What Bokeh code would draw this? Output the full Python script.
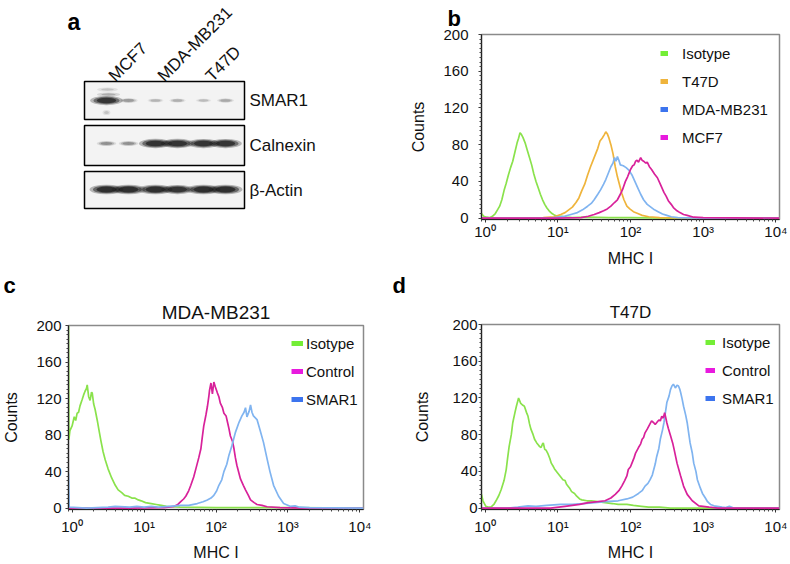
import numpy as np
from bokeh.plotting import figure
from bokeh.models import (Range1d, Legend, LegendItem, FixedTicker, Title,
                          SingleIntervalTicker, CustomJSTickFormatter)
from bokeh.layouts import row, column
from bokeh.core.properties import value
from bokeh.embed import file_html
from bokeh.resources import INLINE

FONT = "Liberation Sans"

# ---------------- Panel a : western blot (band intensities 0..1) ----------------
lanes = ["MCF7", "MDA-MB231", "T47D"]
proteins = ["SMAR1", "Calnexin", "β-Actin"]
# two duplicate sub-lanes per cell line
smar1_bands = [0.9, 0.3, 0.2, 0.22, 0.18, 0.25]
calnexin_bands = [0.35, 0.35, 0.92, 0.92, 0.9, 0.9]
actin_bands = [0.95, 0.95, 0.95, 0.9, 0.95, 0.95]
mcf7_smar1_smear = [0.3, 0.45, 0.3]

# ---------------- Panel b : flow cytometry, cell lines ----------------
b_names = ["Isotype", "T47D", "MDA-MB231", "MCF7"]
b_iso_log = [-0.05, -0.02, 0.02, 0.06, 0.10, 0.14, 0.17, 0.20, 0.23, 0.26, 0.29, 0.32, 0.35, 0.38, 0.41,
             0.44, 0.46, 0.48, 0.50, 0.52, 0.55, 0.58, 0.61, 0.64, 0.67, 0.70, 0.73, 0.76, 0.79, 0.82,
             0.85, 0.88, 0.92, 0.96, 1.00, 1.05, 1.12, 1.2, 1.4, 1.7, 2.0, 2.5, 3.0, 4.05]
b_iso_cnt = [5, 2, 1, 0.5, 2, 5, 9, 13, 20, 30, 38, 47, 55, 62, 72, 82, 87, 93, 91, 88,
             82, 74, 66, 58, 48, 40, 33, 26, 20, 15, 11, 8, 5, 3, 2, 2, 1, 0.5, 1, 0.5, 0.5, 0, 0, 0]
b_t47d_log = [-0.05, 0.5, 0.8, 0.95, 1.04, 1.10, 1.15, 1.20, 1.25, 1.29, 1.33, 1.37, 1.41, 1.45, 1.49,
              1.52, 1.55, 1.58, 1.61, 1.64, 1.66, 1.68, 1.70, 1.73, 1.76, 1.79, 1.82, 1.85, 1.88, 1.91,
              1.95, 1.99, 2.04, 2.10, 2.16, 2.25, 2.4, 3.0, 4.05]
b_t47d_cnt = [0, 0, 0.5, 1.5, 4, 6, 9, 12, 17, 22, 30, 37, 47, 56, 64, 70, 76, 84, 87, 91,
              94, 92, 88, 80, 70, 56, 45, 36, 27, 20, 13, 10, 7, 5, 3, 1.5, 0.5, 0, 0]
b_mda_log = [-0.05, 0.9, 1.09, 1.18, 1.27, 1.34, 1.41, 1.46, 1.50, 1.55, 1.59, 1.63, 1.66, 1.70, 1.73,
             1.76, 1.78, 1.80, 1.82, 1.84, 1.86, 1.90, 1.94, 1.98, 2.02, 2.06, 2.10, 2.14, 2.18, 2.23,
             2.28, 2.33, 2.38, 2.44, 2.50, 2.56, 2.65, 3.0, 4.05]
b_mda_cnt = [0, 0, 2, 4, 6, 9, 13, 16, 20, 26, 31, 37, 42, 50, 56, 60, 66, 62, 67, 63,
             58, 57, 55, 52, 47, 40, 33, 26, 20, 15, 12, 9, 7, 4.5, 3, 1.5, 0.5, 0, 0]
b_mcf7_log = [-0.05, 1.0, 1.32, 1.42, 1.50, 1.57, 1.63, 1.68, 1.73, 1.78, 1.82, 1.86, 1.89, 1.93, 1.96,
              1.98, 2.00, 2.03, 2.05, 2.07, 2.09, 2.11, 2.14, 2.16, 2.18, 2.21, 2.23, 2.26, 2.29, 2.33,
              2.37, 2.41, 2.46, 2.49, 2.52, 2.56, 2.59, 2.64, 2.68, 2.73, 2.78, 2.87, 3.0, 4.05]
b_mcf7_cnt = [0, 0, 0.5, 2, 4, 6, 8, 10, 13, 17, 20, 26, 31, 40, 45, 49, 53, 57, 58, 62,
              63, 61, 66, 63, 62, 60, 61, 56, 53, 48, 44, 37, 28, 24, 19, 15, 11.5, 8, 6, 4,
              3, 1, 0.5, 0]

# ---------------- Panel c : MDA-MB231 ----------------
cd_names = ["Isotype", "Control", "SMAR1"]
c_iso_log = [-0.05, -0.045, -0.03, 0.0, 0.03, 0.05, 0.07, 0.09, 0.11, 0.14, 0.16, 0.18, 0.20, 0.21, 0.23,
             0.25, 0.27, 0.28, 0.30, 0.32, 0.35, 0.37, 0.40, 0.43, 0.46, 0.50, 0.55, 0.60, 0.64, 0.69,
             0.73, 0.78, 0.83, 0.87, 0.92, 0.96, 1.02, 1.10, 1.17, 1.24, 1.31, 1.38, 1.5, 2.0, 3.0, 4.05]
c_iso_cnt = [200, 75, 85, 90, 100, 96, 104, 105, 112, 119, 124, 128, 131, 135, 122, 118, 127, 126, 114, 108,
             96, 87, 74, 62, 53, 43, 33, 25, 20, 17, 14, 13, 11, 11, 9, 8, 6, 5, 4, 3,
             2, 1.5, 1, 0.5, 0.5, 0]
c_ctrl_log = [-0.05, 0.8, 1.28, 1.42, 1.47, 1.51, 1.55, 1.58, 1.62, 1.65, 1.69, 1.72, 1.76, 1.79, 1.81,
              1.83, 1.86, 1.88, 1.90, 1.91, 1.93, 1.95, 1.97, 1.99, 2.02, 2.04, 2.06, 2.09, 2.11, 2.14,
              2.16, 2.18, 2.20, 2.23, 2.25, 2.27, 2.29, 2.32, 2.34, 2.38, 2.41, 2.45, 2.48, 2.53, 2.57,
              2.64, 2.71, 2.89, 3.2, 4.05]
c_ctrl_cnt = [0, 0, 0.5, 2, 4, 7, 10, 13, 19, 25, 34, 43, 55, 65, 78, 90, 102, 111, 122, 129,
              137, 125, 138, 133, 126, 122, 115, 110, 104, 101, 94, 87, 79, 73, 65, 55, 47, 38, 32, 25,
              20, 14, 9, 6, 4, 3, 1.5, 0.5, 0, 0]
c_smar_log = [-0.05, -0.04, 0.2, 0.5, 0.6, 0.8, 0.9, 1.0, 1.1, 1.2, 1.35, 1.51, 1.62, 1.74, 1.82,
              1.88, 1.93, 1.97, 2.01, 2.04, 2.08, 2.11, 2.15, 2.18, 2.22, 2.27, 2.32, 2.36, 2.39, 2.41,
              2.43, 2.46, 2.48, 2.50, 2.52, 2.57, 2.61, 2.66, 2.71, 2.75, 2.80, 2.87, 2.94, 3.03, 3.10,
              3.16, 3.3, 4.05]
c_smar_cnt = [38, 1, 0, 1, 2, 1, 2, 1, 2, 1, 2, 3, 3, 5, 7, 9, 11, 14, 19, 25,
              31, 40, 48, 58, 68, 83, 94, 101, 105, 110, 100, 106, 113, 105, 101, 97, 86, 72, 54, 40,
              25, 13, 5, 2, 2.5, 1, 0.5, 0]

# ---------------- Panel d : T47D ----------------
d_iso_log = [-0.05, -0.03, 0.01, 0.05, 0.08, 0.12, 0.15, 0.19, 0.22, 0.26, 0.29, 0.31, 0.33, 0.36, 0.38,
             0.41, 0.43, 0.45, 0.46, 0.48, 0.49, 0.52, 0.54, 0.57, 0.59, 0.61, 0.63, 0.66, 0.68, 0.71,
             0.73, 0.75, 0.77, 0.79, 0.80, 0.82, 0.84, 0.86, 0.89, 0.91, 0.94, 0.96, 1.00, 1.03, 1.07,
             1.10, 1.12, 1.16, 1.19, 1.23, 1.26, 1.30, 1.33, 1.40, 1.46, 1.55, 1.65, 1.75, 1.83, 1.95,
             2.04, 2.15, 2.25, 2.4, 2.55, 3.0, 4.05]
d_iso_cnt = [15, 8, 2, 1, 1, 4, 8, 14, 20, 30, 42, 55, 67, 80, 93, 104, 111, 117, 120, 116,
             114, 112, 111, 104, 100, 92, 86, 80, 75, 71, 69, 67, 66, 70, 71, 64, 63, 60, 54, 49,
             45, 42, 38, 35, 31, 30, 26, 22, 18, 16, 13, 10, 9, 8, 8, 7, 6, 5, 4, 4,
             3, 2, 1, 1, 0, 0, 0]
d_ctrl_log = [-0.05, 0.9, 1.1, 1.3, 1.42, 1.55, 1.65, 1.73, 1.79, 1.84, 1.88, 1.92, 1.95, 1.97, 2.00,
              2.02, 2.05, 2.07, 2.09, 2.11, 2.14, 2.16, 2.18, 2.20, 2.23, 2.25, 2.27, 2.29, 2.32, 2.34,
              2.37, 2.39, 2.41, 2.43, 2.45, 2.47, 2.50, 2.52, 2.55, 2.58, 2.60, 2.64, 2.69, 2.73, 2.78,
              2.85, 2.94, 3.08, 3.2, 4.05]
d_ctrl_cnt = [0, 0, 2, 4, 6, 7, 8, 11, 15, 19, 24, 30, 35, 42, 45, 49, 55, 60, 63, 66,
              70, 75, 77, 82, 86, 89, 92, 95, 93, 91, 94, 96, 95, 100, 98, 104, 93, 87, 79, 71,
              64, 49, 35, 24, 15, 8, 2.5, 1, 0, 0]
d_smar_log = [-0.05, 0.3, 0.45, 0.59, 0.7, 0.85, 1.04, 1.2, 1.35, 1.51, 1.65, 1.83, 1.95, 2.03, 2.11,
              2.16, 2.20, 2.24, 2.27, 2.30, 2.32, 2.34, 2.36, 2.39, 2.41, 2.44, 2.46, 2.48, 2.50, 2.53,
              2.55, 2.57, 2.59, 2.61, 2.62, 2.64, 2.66, 2.68, 2.69, 2.71, 2.73, 2.76, 2.78, 2.80, 2.82,
              2.85, 2.87, 2.90, 2.92, 2.96, 2.99, 3.03, 3.06, 3.10, 3.15, 3.26, 3.31, 3.36, 3.42, 4.05]
d_smar_cnt = [0, 0, 1, 2.5, 2, 3, 4, 4, 5, 6, 7, 8, 10, 12, 16, 19, 24, 27, 31, 36,
              42, 48, 56, 65, 75, 85, 93, 104, 115, 122, 129, 133, 135, 132, 131, 134, 133, 129, 126, 119,
              111, 101, 93, 82, 71, 60, 49, 40, 31, 22, 16, 11, 7, 4, 2.5, 1, 0.5, 2, 0, 0]

# colours
GREEN_C, GREEN_L = "#8ae24c", "#74ee36"
ORANGE = "#efb43c"
BLUE_C, BLUE_L = "#80b4f0", "#3c74ee"
MAG_C, MAG_L = "#d8219a", "#e81ade"

SUP = """
const sup = {"0":"\u2070","1":"\u00b9","2":"\u00b2","3":"\u00b3","4":"\u2074","-":"\u207b"};
const e = Math.round(Math.log10(tick));
return "10" + String(e).split("").map(c => sup[c]).join("");
"""

XLO, XHI = -0.05, 4.05
YLO, YHI = -1.5, 200
ROW1_H, ROW2_H = 270, 294
COL1_W, COL2_W = 392, 398


def add_title(p, text, size, bold, align, offset, standoff):
    p.add_layout(Title(text=text, align=align, offset=offset, standoff=standoff,
                       text_font=FONT, text_font_size=size,
                       text_font_style="bold" if bold else "normal",
                       text_color="black" if bold else "#111111"), "above")


def hist(width, height, borders, series, names, leg_colors, leg_loc, glyph_w, leg_stand,
         titles, xls, yls, xas, yas):
    p = figure(width=width, height=height, x_axis_type="log",
               x_range=Range1d(10 ** XLO, 10 ** XHI), y_range=Range1d(YLO, YHI),
               output_backend="svg", toolbar_location=None, title=None, frame_align=False,
               min_border_left=borders[0], min_border_right=borders[1],
               min_border_top=borders[2], min_border_bottom=borders[3])
    p.background_fill_color = "white"
    p.border_fill_color = "white"
    p.outline_line_color = "#8a8a8a"
    p.outline_line_width = 1.5
    p.xgrid.visible = False
    p.ygrid.visible = False
    for t in titles:
        add_title(p, *t)
    minor = [m * 10.0 ** e for e in range(-1, 4) for m in range(2, 10)]
    p.xaxis.ticker = FixedTicker(ticks=[1, 10, 100, 1000, 10000], minor_ticks=minor)
    p.xaxis.formatter = CustomJSTickFormatter(code=SUP)
    p.yaxis.ticker = SingleIntervalTicker(interval=40, num_minor_ticks=8)
    for ax in (p.xaxis[0], p.yaxis[0]):
        ax.axis_line_color = "#222222"
        ax.axis_line_width = 1.2
        ax.major_tick_in = 0
        ax.major_tick_out = 3
        ax.minor_tick_in = 0
        ax.minor_tick_out = 2
        ax.major_tick_line_color = "#333333"
        ax.minor_tick_line_color = "#444444"
        ax.major_label_text_font = FONT
        ax.major_label_text_font_size = "15px"
        ax.major_label_text_color = "#111111"
        ax.axis_label_text_font = FONT
        ax.axis_label_text_font_size = "16px"
        ax.axis_label_text_font_style = "normal"
        ax.axis_label_text_color = "#111111"
    p.xaxis.axis_label = "MHC I"
    p.yaxis.axis_label = "Counts"
    p.xaxis.major_label_standoff = xls
    p.yaxis.major_label_standoff = yls
    p.xaxis.axis_label_standoff = xas
    p.yaxis.axis_label_standoff = yas

    for lg, cnt, col in series:
        p.line(x=10 ** np.array(lg), y=cnt, line_color=col, line_width=1.7)

    items = []
    for nm, col in zip(names, leg_colors):
        r = p.line(x=[np.nan], y=[np.nan], line_color=col, line_width=5)
        items.append(LegendItem(label=nm, renderers=[r]))
    leg = Legend(items=items, location=leg_loc, glyph_width=glyph_w, glyph_height=20,
                 label_height=20, label_standoff=leg_stand, spacing=8, padding=0, margin=0,
                 border_line_color=None, background_fill_alpha=0,
                 label_text_font=FONT, label_text_font_size="15px", label_text_color="#111111")
    p.add_layout(leg)
    return p


# ---------------- build panel a (data coords == canvas pixels) ----------------
pa = figure(width=COL1_W, height=ROW1_H, x_range=Range1d(0, COL1_W), y_range=Range1d(ROW1_H, 0),
            x_axis_type=None, y_axis_type=None, output_backend="svg", toolbar_location=None,
            min_border=0, frame_align=False)
pa.outline_line_color = None
pa.background_fill_color = "white"
pa.border_fill_color = "white"

box_left, box_right = 84, 244
row_tops = [81, 125, 171]
row_h = [38, 40, 37]
row_cy = [t + h / 2 for t, h in zip(row_tops, row_h)]
pa.rect(x=[(box_left + box_right) / 2] * 3, y=row_cy, width=box_right - box_left, height=row_h,
        fill_color="#f3f3f3", line_color="black", line_width=1.5)

lane_c = [117, 166, 214]
sub_x = [c + d for c in lane_c for d in (-11, 11)]
band_y = [100, 143, 189]
for r, vals in enumerate([smar1_bands, calnexin_bands, actin_bands]):
    v = np.array(vals)
    w = 9 + 19 * v
    h = 2 + 6 * v
    for scale, a in ((1.25, 0.3), (1.0, 0.5), (0.75, 0.7)):
        pa.ellipse(x=sub_x, y=[band_y[r]] * len(vals), width=w * scale, height=h * scale,
                   fill_color="#141414", fill_alpha=a * v, line_color=None)
# smear above / below the MCF7 SMAR1 band
sm = np.array(mcf7_smar1_smear)
for scale, a in ((1.3, 0.3), (0.8, 0.5)):
    pa.ellipse(x=[sub_x[0] + 1, sub_x[0] + 2, sub_x[0]], y=[band_y[0] - 11, band_y[0] - 6, band_y[0] + 12],
               width=[16 * scale, 18 * scale, 6 * scale], height=[3 * scale, 3 * scale, 4 * scale],
               fill_color="#202020", fill_alpha=a * sm, line_color=None)

pa.text(x=[box_right + 5] * 3, y=row_cy, text=proteins, text_font=value(FONT),
        text_font_size="17px", text_align="left", text_baseline="middle", text_color="#111111")
pa.text(x=[c - 6 for c in lane_c], y=[78] * 3, text=lanes, angle=np.pi / 4,
        text_font=value(FONT), text_font_size="17px", text_align="left",
        text_baseline="alphabetic", text_color="#111111")
pa.text(x=[67], y=[21], text=["a"], text_font=value(FONT), text_font_size="23px",
        text_font_style="bold", text_baseline="alphabetic", text_color="black")

# ---------------- panels b, c, d ----------------
pb = hist(COL2_W, ROW1_H, (89, 11, 33, 51),
          [(b_iso_log, b_iso_cnt, GREEN_C), (b_t47d_log, b_t47d_cnt, ORANGE),
           (b_mda_log, b_mda_cnt, BLUE_C), (b_mcf7_log, b_mcf7_cnt, MAG_C)],
          b_names, [GREEN_L, ORANGE, BLUE_L, MAG_L], (179, 72), 8, 14,
          [("b", "22px", True, "left", -34, 7)],
          0, 10, 7, 13)

pc = hist(COL1_W, ROW2_H, (65, 29, 53, 55),
          [(c_iso_log, c_iso_cnt, GREEN_C), (c_ctrl_log, c_ctrl_cnt, MAG_C),
           (c_smar_log, c_smar_cnt, BLUE_C)],
          cd_names, [GREEN_L, MAG_L, BLUE_L], (223, 100), 12, 3,
          [("MDA-MB231", "19px", False, "center", 0, 5), ("c", "22px", True, "left", -65, 0)],
          5, 4, 6, 13)

pd = hist(COL2_W, ROW2_H, (89, 11, 53, 55),
          [(d_iso_log, d_iso_cnt, GREEN_C), (d_smar_log, d_smar_cnt, BLUE_C),
           (d_ctrl_log, d_ctrl_cnt, MAG_C)],
          cd_names, [GREEN_L, MAG_L, BLUE_L], (224, 101), 10, 7,
          [("T47D", "17px", False, "center", 0, 6), ("d", "22px", True, "left", -89, 0)],
          5, 1, 6, 18)

layout = column(row(pa, pb), row(pc, pd))

open("out.html", "w").write(file_html(layout, INLINE))
